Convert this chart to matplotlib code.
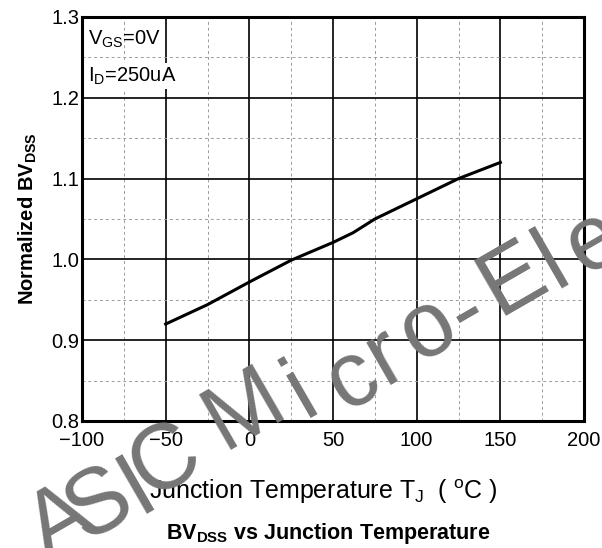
# bvdss_vs_tj.py — Normalized BVDSS vs junction temperature (datasheet curve)

import matplotlib
matplotlib.use("Agg")
import matplotlib.pyplot as plt
from matplotlib.ticker import MultipleLocator

# curve
temp_c = [-50, -25, 0, 25, 50, 62, 75, 100, 125, 150]
bv_norm = [0.920, 0.944, 0.972, 0.999, 1.021, 1.033, 1.050, 1.075, 1.100, 1.120]

x_ticks = [-100, -50, 0, 50, 100, 150, 200]
y_ticks = [0.8, 0.9, 1.0, 1.1, 1.2, 1.3]

# watermark letters and where their centres sit (figure pixels from top-left)
wm_chars = list("ASICMicro-Ele")
wm_xy = [(62, 524), (100, 505), (138, 487), (166, 462), (245, 410), (302, 392),
         (352, 380), (386, 357), (428, 330), (468, 313), (513, 280), (552, 262), (594, 243)]

plt.rcParams["font.family"] = ["Liberation Sans", "DejaVu Sans"]
plt.rcParams["mathtext.fontset"] = "custom"
plt.rcParams["mathtext.rm"] = "Liberation Sans"
plt.rcParams["mathtext.bf"] = "Liberation Sans:bold"

W, H = 602, 548
fig = plt.figure(figsize=(W / 100, H / 100), dpi=100)
ax = fig.add_axes([82 / W, 1 - 421 / H, 502 / W, 404 / H])

ax.set_xlim(-100, 200)
ax.set_ylim(0.8, 1.3)
ax.set_xticks(x_ticks)
ax.set_yticks(y_ticks)
ax.set_xticklabels([str(v).replace("-", "\u2212") for v in x_ticks])
ax.set_yticklabels([f"{v:.1f}" for v in y_ticks])
ax.xaxis.set_minor_locator(MultipleLocator(25))
ax.yaxis.set_minor_locator(MultipleLocator(0.05))

ax.grid(which="major", color="black", linewidth=1.2)
ax.grid(which="minor", color="#9a9a9a", linestyle=(0, (3, 3)), linewidth=0.7)
ax.set_axisbelow(True)
ax.tick_params(which="both", length=0, labelsize=14.5)
ax.tick_params(axis="x", pad=7)
ax.tick_params(axis="y", pad=2)
for s in ax.spines.values():
    s.set_linewidth(2.2)

ax.plot(temp_c, bv_norm, color="black", linewidth=2.2, zorder=3)

ax.text(0.012, 0.972, "V$_{\\mathregular{GS}}$=0V", transform=ax.transAxes,
        fontsize=14.5, va="top", ha="left")
ax.text(0.012, 0.88, "I$_{\\mathregular{D}}$=250uA", transform=ax.transAxes,
        fontsize=14.5, va="top", ha="left",
        bbox=dict(facecolor="white", edgecolor="none", pad=1.5))

ax.set_ylabel("Normalized BV$_{\\mathbf{DSS}}$", fontsize=14.5, fontweight="bold")
ax.yaxis.set_label_coords(-0.086, 0.5)
fig.text(323 / W, 1 - 492 / H,
         "Junction Temperature T$_{\\mathregular{J}}$  ( $^{\\mathregular{o}}$C )",
         fontsize=18, ha="center", va="center")
fig.text(328 / W, 1 - 534 / H, "BV$_{\\mathbf{DSS}}$ vs Junction Temperature",
         fontsize=15.5, fontweight="bold", ha="center", va="center")

# watermark, drawn over everything
for ch, (px, py) in zip(wm_chars, wm_xy):
    fig.text(px / W, 1 - py / H, ch, fontsize=66, color="#767676", rotation=30,
             ha="center", va="center", rotation_mode="anchor", zorder=10)

fig.savefig("out.png", dpi=100)
plt.close(fig)
